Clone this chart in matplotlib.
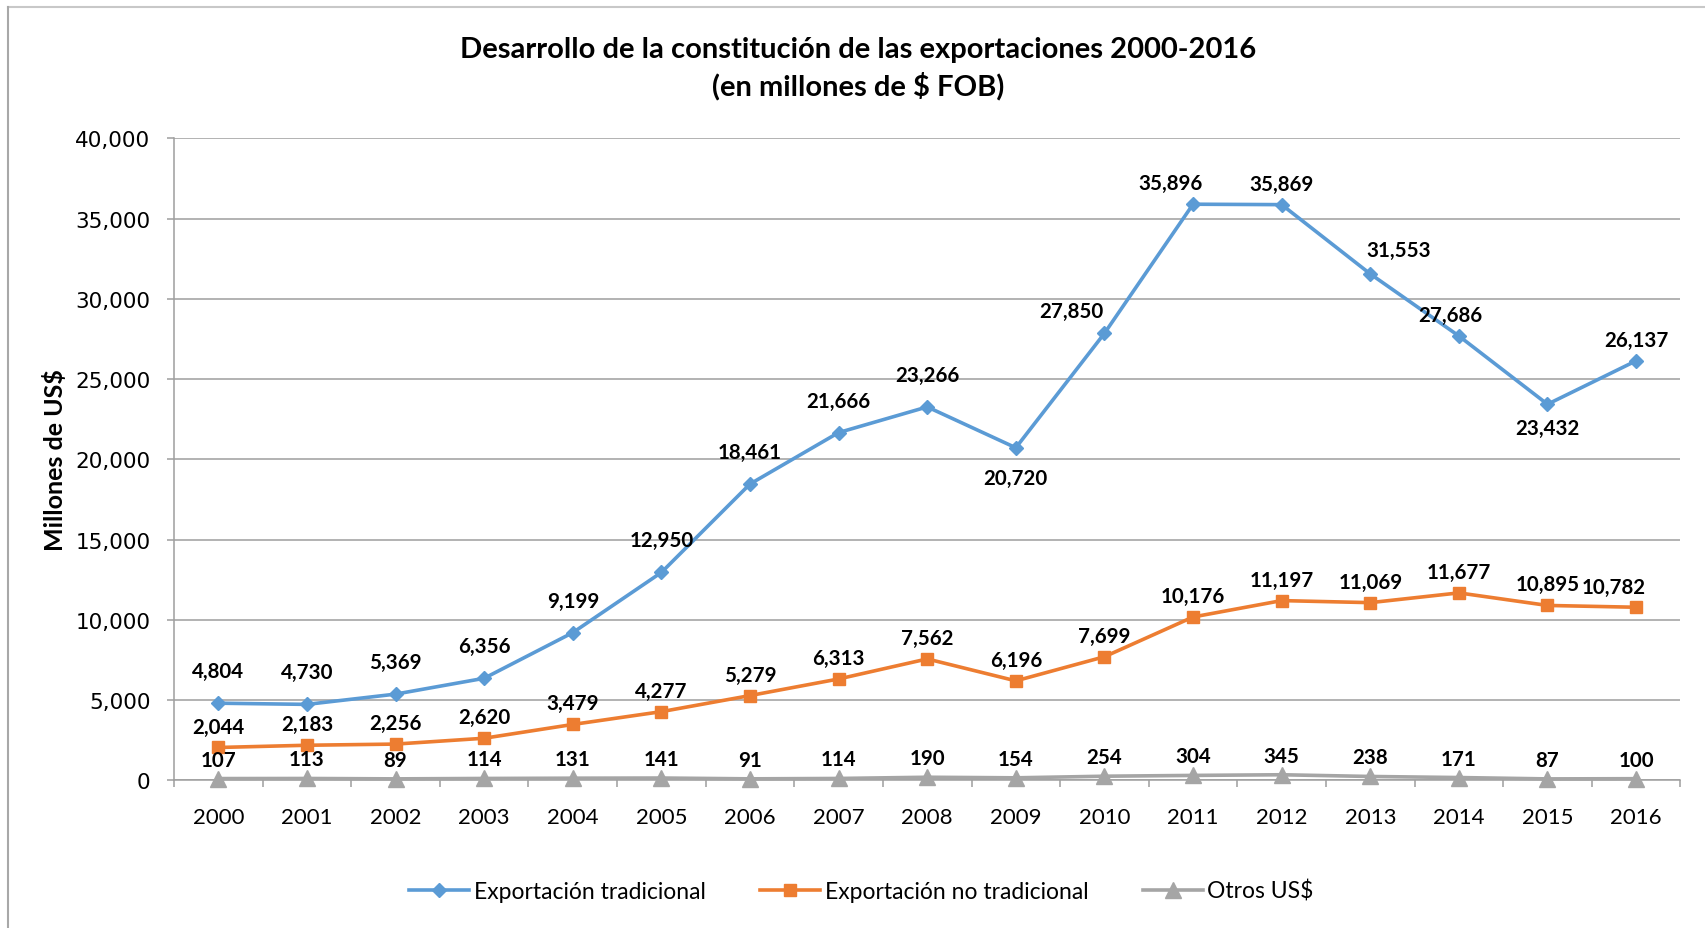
import matplotlib
matplotlib.use('Agg')
import matplotlib.pyplot as plt
import numpy as np
from matplotlib.lines import Line2D
from matplotlib.ticker import FuncFormatter, MultipleLocator

years = ['2000', '2001', '2002', '2003', '2004', '2005', '2006', '2007', '2008',
         '2009', '2010', '2011', '2012', '2013', '2014', '2015', '2016']
tradicional = [4804, 4730, 5369, 6356, 9199, 12950, 18461, 21666, 23266,
               20720, 27850, 35896, 35869, 31553, 27686, 23432, 26137]
no_tradicional = [2044, 2183, 2256, 2620, 3479, 4277, 5279, 6313, 7562,
                  6196, 7699, 10176, 11197, 11069, 11677, 10895, 10782]
otros = [107, 113, 89, 114, 131, 141, 91, 114, 190,
         154, 254, 304, 345, 238, 171, 87, 100]

blue = '#5B9BD5'
orange = '#ED7D31'
gray = '#A5A5A5'
grid_c = '#9E9E9E'

fig = plt.figure(figsize=(17.06, 9.29), dpi=100)
ax = fig.add_axes([0.102, 0.159, 0.883, 0.691])

x = np.arange(len(years))
ax.plot(x, tradicional, color=blue, lw=2.6, marker='D', ms=7, label='Exportación tradicional', zorder=4)
ax.plot(x, no_tradicional, color=orange, lw=2.6, marker='s', ms=9, label='Exportación no tradicional', zorder=4)
ax.plot(x, otros, color=gray, lw=2.6, marker='^', ms=11, label='Otros US$', zorder=3, clip_on=False)

ax.set_xlim(-0.5, len(years) - 0.5)
ax.set_ylim(0, 40000)
ax.yaxis.set_major_locator(MultipleLocator(5000))
ax.yaxis.set_major_formatter(FuncFormatter(lambda v, p: '{:,.0f}'.format(v)))
ax.grid(axis='y', color=grid_c, lw=1.1)
ax.set_axisbelow(True)
for s in ['top', 'right']:
    ax.spines[s].set_visible(False)
ax.spines['left'].set_color(grid_c)
ax.spines['bottom'].set_color(grid_c)
ax.spines['left'].set_linewidth(1.1)
ax.spines['bottom'].set_linewidth(1.1)

ax.set_xticks(x)
ax.set_xticklabels(years, family='Lato', fontsize=16)
ax.set_xticks(np.arange(-0.5, len(years), 1), minor=True)
ax.tick_params(axis='x', which='major', length=0, pad=19)
ax.tick_params(axis='x', which='minor', length=5, color=grid_c, width=1.1)
ax.tick_params(axis='y', length=5, color=grid_c, width=1.1, pad=12)
for t in ax.get_yticklabels():
    t.set_family('DejaVu Sans')
    t.set_fontsize(15.5)

ax.set_ylabel('Millones de US$', family='Lato', fontweight='bold', fontsize=18, labelpad=6)

# label offsets in pixels (dx, dy)
blue_off = {9: (0, -30), 10: (-33, 22), 11: (-23, 21), 12: (0, 21), 13: (28, 24),
            14: (-9, 21), 15: (0, -24), 16: (0, 21)}
orange_off = {16: (-22, 20)}

def lab(vals, i, dx, dy):
    ax.annotate('{:,}'.format(vals[i]), (x[i], vals[i]), xytext=(dx * 0.72, dy * 0.72),
                textcoords='offset points', ha='center', va='center',
                family='Lato', fontweight='bold', fontsize=14.8, zorder=6)

for i in range(len(years)):
    dx, dy = blue_off.get(i, (0, 32))
    lab(tradicional, i, dx, dy)
    dx, dy = orange_off.get(i, (0, 21))
    lab(no_tradicional, i, dx, dy)
    lab(otros, i, 0, 19)

fig.text(0.503, 0.926, 'Desarrollo de la constitución de las exportaciones 2000-2016\n(en millones de $ FOB)',
         ha='center', va='center', family='Lato', fontweight='bold', fontsize=21, linespacing=1.4)

fig.legend(loc='center', bbox_to_anchor=(0.505, 0.04), ncol=3, frameon=False,
           prop={'family': 'Lato', 'size': 16.5}, handlelength=2.6, handletextpad=0.2,
           columnspacing=2.4)

fig.add_artist(Line2D([0.0047, 1.0], [0.9914, 0.9914], transform=fig.transFigure, color='#C8C8C8', lw=1.5))
fig.add_artist(Line2D([0.0047, 0.0047], [0.0, 0.9914], transform=fig.transFigure, color='#A8A8A8', lw=1.5))

fig.savefig('out.png', dpi=100)
